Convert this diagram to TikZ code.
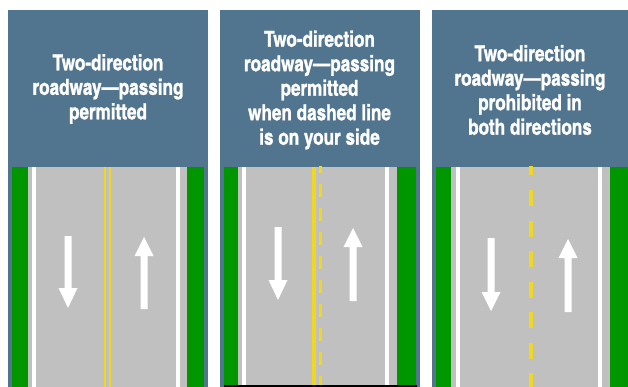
\documentclass[tikz,border=0pt]{standalone}
\usepackage{fontspec}
\setmainfont{Liberation Sans}
\newfontfamily\hdrfont[FakeStretch=0.95,FakeBold=1.2]{texgyreheroscn-bold.otf}
\definecolor{hdrblue}{RGB}{82,117,143}
\definecolor{grass}{RGB}{0,150,0}
\definecolor{asphalt}{RGB}{192,192,192}
\definecolor{lineyellow}{RGB}{240,216,32}
\begin{document}
\begin{tikzpicture}[x=1pt,y=-1pt,
  hdr/.style={text=white,font=\hdrfont\fontsize{22}{24.5}\selectfont,align=center,inner sep=0pt},
  panel/.style={fill=hdrblue},
  grassbox/.style={fill=grass},
  road/.style={fill=asphalt},
  edgeline/.style={fill=white},
  yline/.style={fill=lineyellow},
  arrowshape/.style={fill=white}]
\useasboundingbox (0,0) rectangle (628,387);
\fill[white] (0,0) rectangle (628,387);

% ---------- Panel 1 ----------
\fill[panel] (8,10) rectangle (207.5,387);
\fill[grassbox] (12,167) rectangle (28,387);
\fill[grassbox] (187,167) rectangle (204,387);
\fill[road] (28,167) rectangle (187,387);
\fill[edgeline] (32,167) rectangle (36,387);
\fill[edgeline] (175.5,167) rectangle (179.5,387);
\fill[yline] (104,167) rectangle (106.2,387);
\fill[yline] (108.8,167) rectangle (111,387);
\fill[arrowshape] (64.5,236) -- (71.5,236) -- (71.5,288) -- (77.5,288) -- (68,308) -- (58.5,288) -- (64.5,288) -- cycle;
\fill[arrowshape] (140.5,309) -- (147.5,309) -- (147.5,256) -- (153.5,256) -- (144,237) -- (134.5,256) -- (140.5,256) -- cycle;
\node[hdr] (t1) at (108,89) {Two-direction\\roadway—passing\\permitted};

% ---------- Panel 2 ----------
\fill[panel] (220,10) rectangle (419.5,387);
\fill[grassbox] (224,167) rectangle (237.5,387);
\fill[grassbox] (397,167) rectangle (416,387);
\fill[road] (237.5,167) rectangle (397,387);
\fill[edgeline] (242,167) rectangle (246,387);
\fill[edgeline] (385,167) rectangle (389,387);
\fill[yline] (312,167) rectangle (316,387);
\begin{scope}
  \clip (310,167) rectangle (330,385);
  \draw[lineyellow,line width=3.5pt,dash pattern=on 13pt off 11pt] (320.5,160) -- (320.5,390);
\end{scope}
\fill[black] (224,385) rectangle (417,387);
\fill[arrowshape] (274.5,227) -- (281.5,227) -- (281.5,280) -- (287.5,280) -- (278,300) -- (268.5,280) -- (274.5,280) -- cycle;
\fill[arrowshape] (349.5,301) -- (356.5,301) -- (356.5,247) -- (362.5,247) -- (353,228) -- (343.5,247) -- (349.5,247) -- cycle;
\node[hdr] (t2) at (319.5,90) {Two-direction\\roadway—passing\\permitted\\when dashed line\\is on your side};

% ---------- Panel 3 ----------
\fill[panel] (432,10) rectangle (628,387);
\fill[grassbox] (436,167) rectangle (451,387);
\fill[grassbox] (610,167) rectangle (628,387);
\fill[road] (451,167) rectangle (610,387);
\fill[edgeline] (456,167) rectangle (460,387);
\fill[edgeline] (598,167) rectangle (602,387);
\begin{scope}
  \clip (520,167) rectangle (540,387);
  \draw[lineyellow,line width=4pt,dash pattern=on 16pt off 14.5pt] (531,159.5) -- (531,395);
\end{scope}
\fill[arrowshape] (487.5,238) -- (494.5,238) -- (494.5,292) -- (500.5,292) -- (491,311) -- (481.5,292) -- (487.5,292) -- cycle;
\fill[arrowshape] (564.5,312) -- (571.5,312) -- (571.5,258) -- (577.5,258) -- (568,239) -- (558.5,258) -- (564.5,258) -- cycle;
\node[hdr] (t3) at (530,90) {Two-direction\\roadway—passing\\prohibited in\\both directions};
\end{tikzpicture}
\end{document}
